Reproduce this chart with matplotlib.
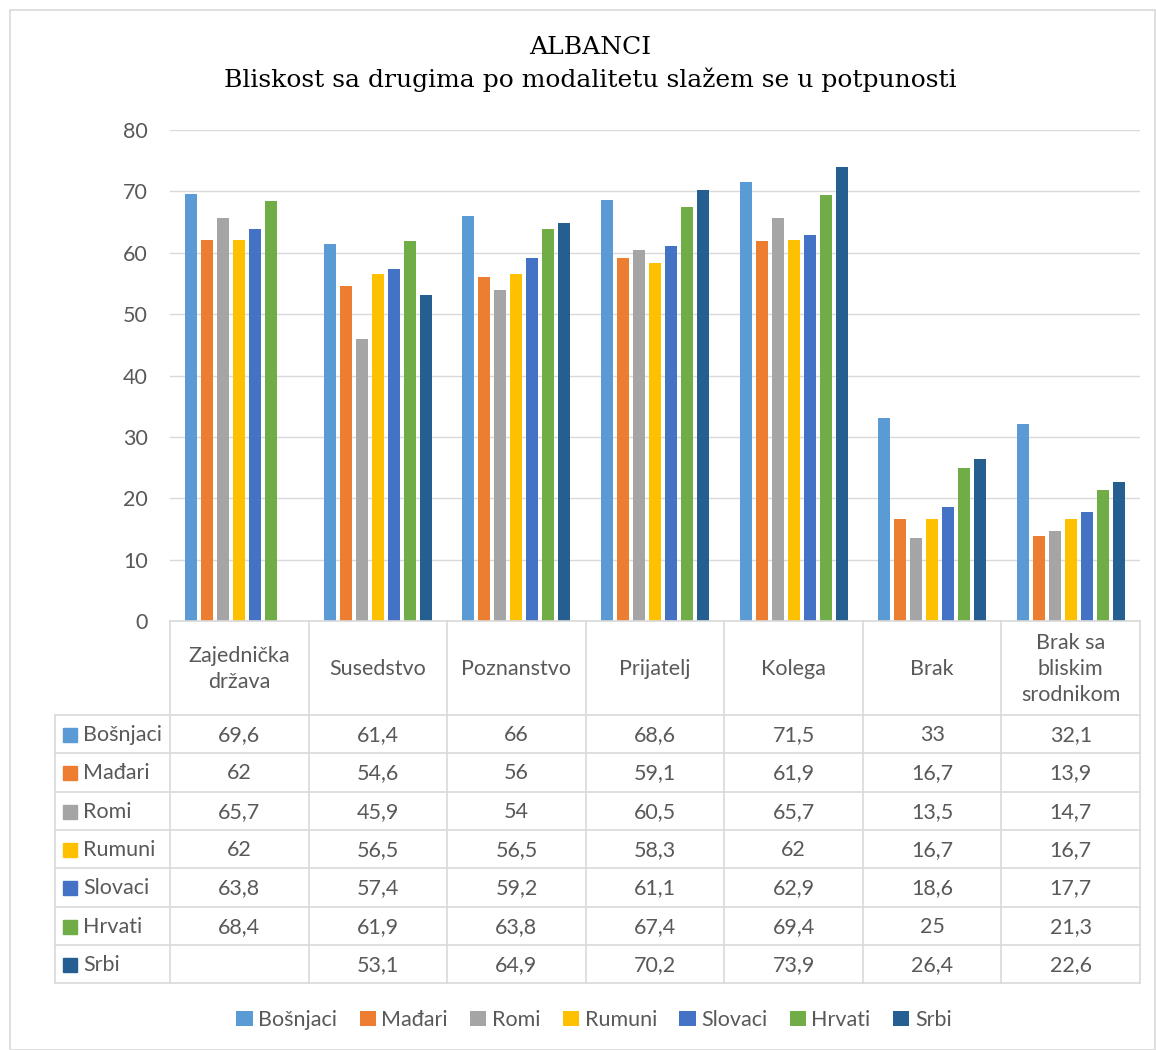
import numpy as np
import matplotlib
matplotlib.use("Agg")
import matplotlib.pyplot as plt
from matplotlib.patches import Rectangle

categories = ["Zajednička\ndržava", "Susedstvo", "Poznanstvo", "Prijatelj",
              "Kolega", "Brak", "Brak sa\nbliskim\nsrodnikom"]
series = ["Bošnjaci", "Mađari", "Romi", "Rumuni", "Slovaci", "Hrvati", "Srbi"]
bosnjaci = [69.6, 61.4, 66, 68.6, 71.5, 33, 32.1]
madjari = [62, 54.6, 56, 59.1, 61.9, 16.7, 13.9]
romi = [65.7, 45.9, 54, 60.5, 65.7, 13.5, 14.7]
rumuni = [62, 56.5, 56.5, 58.3, 62, 16.7, 16.7]
slovaci = [63.8, 57.4, 59.2, 61.1, 62.9, 18.6, 17.7]
hrvati = [68.4, 61.9, 63.8, 67.4, 69.4, 25, 21.3]
srbi = [np.nan, 53.1, 64.9, 70.2, 73.9, 26.4, 22.6]
values = [bosnjaci, madjari, romi, rumuni, slovaci, hrvati, srbi]
colors = ["#5B9BD5", "#ED7D31", "#A5A5A5", "#FFC000", "#4472C4", "#70AD47", "#255E91"]
yticks = [0, 10, 20, 30, 40, 50, 60, 70, 80]

W, H = 1156, 1050
TXT = "#595959"
GRID = "#d9d9d9"
SANS = ["Lato", "DejaVu Sans"]
FS = 15.5

fig = plt.figure(figsize=(W / 100, H / 100), dpi=100)
fig.patches.append(Rectangle((10 / W, 0), 1 - 10 / W - 1 / W, 1 - 10 / H,
                             transform=fig.transFigure, fill=False,
                             edgecolor=GRID, lw=1.2))

# title
fig.text(590 / W, 1 - 47 / H, "ALBANCI", ha="center", va="center",
         fontsize=18, family="DejaVu Serif", color="black")
fig.text(590 / W, 1 - 80 / H, "Bliskost sa drugima po modalitetu slažem se u potpunosti",
         ha="center", va="center", fontsize=18, family="DejaVu Serif", color="black")

# bar chart
left, right, top, bottom = 170, 1140, 130, 621
ax = fig.add_axes([left / W, 1 - bottom / H, (right - left) / W, (bottom - top) / H])
n = len(series)
slot = 16 / 138.6
bw = 12 / 138.6
x = np.arange(len(categories))
for i, (name, vals, c) in enumerate(zip(series, values, colors)):
    pos = x + 0.5 + (i - (n - 1) / 2) * slot
    ax.bar(pos, vals, width=bw, color=c, label=name, zorder=3)
ax.set_xlim(0, len(categories))
ax.set_ylim(0, 80)
ax.set_yticks(yticks)
ax.set_yticklabels([str(t) for t in yticks], fontsize=FS, color=TXT, family=SANS)
ax.tick_params(axis="y", length=0, pad=16)
ax.set_xticks([])
ax.grid(axis="y", color=GRID, lw=1, zorder=0)
for s in ax.spines.values():
    s.set_visible(False)

# data table
t_left, t_first, t_right = 55, 170, 1140
h_top, h_bot = 621, 715
row_h = 38.3
t_bottom = h_bot + row_h * n
tax = fig.add_axes([t_left / W, 1 - t_bottom / H, (t_right - t_left) / W, (t_bottom - h_top) / H])
tax.set_xlim(t_left, t_right)
tax.set_ylim(t_bottom, h_top)
tax.axis("off")
col_w = (t_right - t_first) / len(categories)
lk = dict(color=GRID, lw=1.2, clip_on=False)
tax.plot([t_first, t_right], [h_top, h_top], **lk)
for k in range(len(categories) + 1):
    xx = t_first + k * col_w
    tax.plot([xx, xx], [h_top, t_bottom], **lk)
tax.plot([t_left, t_left], [h_bot, t_bottom], **lk)
for r in range(n + 1):
    yy = h_bot + r * row_h
    tax.plot([t_left, t_right], [yy, yy], **lk)
for k, cat in enumerate(categories):
    tax.text(t_first + (k + 0.5) * col_w, (h_top + h_bot) / 2 + 1, cat, ha="center",
             va="center", fontsize=FS, color=TXT, family=SANS, linespacing=1.4)
for r, (name, vals, c) in enumerate(zip(series, values, colors)):
    yc = h_bot + (r + 0.5) * row_h + 1
    tax.add_patch(Rectangle((63, yc - 7), 14, 14, color=c, clip_on=False))
    tax.text(83, yc, name, ha="left", va="center", fontsize=FS, color=TXT, family=SANS)
    for k, v in enumerate(vals):
        if np.isnan(v):
            continue
        s = f"{v:g}".replace(".", ",")
        tax.text(t_first + (k + 0.5) * col_w, yc, s, ha="center", va="center",
                 fontsize=FS, color=TXT, family=SANS)

# legend
leg = fig.legend(*ax.get_legend_handles_labels(), loc="center", ncol=n,
                 bbox_to_anchor=(594 / W, 1 - 1020 / H), frameon=False,
                 prop={"family": SANS, "size": FS}, handlelength=0.75,
                 handleheight=0.75, handletextpad=0.25, columnspacing=1.05)
for t in leg.get_texts():
    t.set_color(TXT)

fig.savefig("out.png", dpi=100)
